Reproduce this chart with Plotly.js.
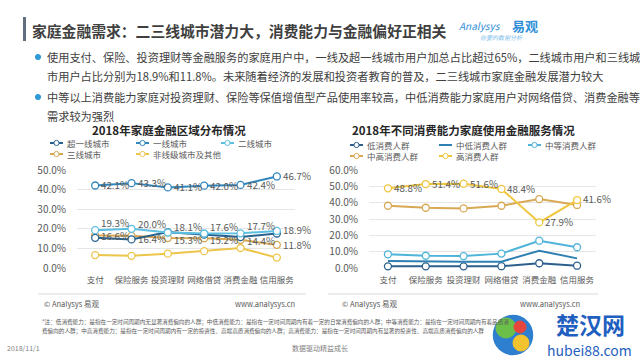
<!DOCTYPE html>
<html>
<head>
<meta charset="utf-8">
<script src="https://cdn.plot.ly/plotly-3.0.1.min.js"></script>
<style>
html,body{margin:0;padding:0;background:#fff;}
#chart{width:640px;height:360px;}
</style>
</head>
<body>
<div id="chart"></div>
<script>
// ---------- DATA ----------
const categories = ['支付', '保险服务', '投资理财', '网络借贷', '消费金融', '信用服务'];

// Left chart: 2018年家庭金融区域分布情况
const regionNames = ['超一线城市', '一线城市', '二线城市', '三线城市', '非线级城市及其他'];
const superTier1 = [15.4, 14.6, 18.3, 17.0, 15.8, 17.6];
const tier1 = [42.1, 43.3, 41.1, 42.0, 42.4, 46.7];
const tier2 = [19.3, 20.0, 18.1, 17.6, 17.7, 18.9];
const tier3 = [16.6, 16.4, 15.3, 15.2, 14.4, 11.8];
const nonTier = [6.6, 6.2, 7.3, 8.6, 10.2, 5.3];

// Right chart: 2018年不同消费能力家庭使用金融服务情况
const groupNames = ['低消费人群', '中低消费人群', '中等消费人群', '中高消费人群', '高消费人群'];
const lowGroup = [1.0, 1.0, 1.0, 1.1, 2.9, 1.4];
const midLowGroup = [4.3, 4.0, 3.9, 3.9, 10.6, 5.9];
const midGroup = [8.4, 7.5, 7.3, 8.8, 16.7, 12.7];
const midHighGroup = [38.1, 36.9, 36.5, 38.1, 42.2, 38.6];
const highGroup = [48.8, 51.4, 51.6, 48.4, 27.9, 41.6];

const leftTicks = [0, 10, 20, 30, 40, 50];
const leftTickText = ['0.0%', '10.0%', '20.0%', '30.0%', '40.0%', '50.0%'];
const rightTicks = [0, 10, 20, 30, 40, 50, 60];
const rightTickText = ['0.0%', '10.0%', '20.0%', '30.0%', '40.0%', '50.0%', '60.0%'];

// ---------- STYLE ----------
const FONT = '"Noto Sans CJK SC", "Noto Sans", sans-serif';
const C = {
  superTier1: '#27628f', tier1: '#3186bd', tier2: '#5cbfe2', tier3: '#d6a651', nonTier: '#edc54a',
  low: '#2c5f8c', midLow: '#2f80b2', mid: '#4fb4da', midHigh: '#d8a853', high: '#f0c63f'
};
const labelFont = {family: FONT, size: 9.8, color: '#595959'};

function series(x, y, color, xa, ya, noMarker) {
  return {
    x: x, y: y, xaxis: xa, yaxis: ya, type: 'scatter',
    mode: noMarker ? 'lines' : 'lines+markers',
    line: {color: color, width: 2},
    marker: {size: 7, color: '#ffffff', line: {color: color, width: 1.3}},
    hoverinfo: 'skip', cliponaxis: false
  };
}

const traces = [
  series(categories, nonTier, C.nonTier, 'x', 'y'),
  series(categories, tier3, C.tier3, 'x', 'y'),
  series(categories, superTier1, C.superTier1, 'x', 'y'),
  series(categories, tier2, C.tier2, 'x', 'y'),
  series(categories, tier1, C.tier1, 'x', 'y'),

  series(categories, lowGroup, C.low, 'x2', 'y2'),
  series(categories, midLowGroup, C.midLow, 'x2', 'y2', true),
  series(categories, midGroup, C.mid, 'x2', 'y2'),
  series(categories, midHighGroup, C.midHigh, 'x2', 'y2'),
  series(categories, highGroup, C.high, 'x2', 'y2')
];

// pixel helpers for paper coords
const W = 640, H = 360;
const px = x => x / W;
const py = y => 1 - y / H;

const annotations = [];
const shapes = [];

// data labels placed through the axes' own scales
function dataLabels(values, xa, ya, yshifts) {
  values.forEach((v, i) => {
    annotations.push({
      xref: xa, yref: ya, x: categories[i], y: v, text: v.toFixed(1) + '%', showarrow: false,
      xanchor: 'left', yanchor: 'middle', xshift: 4, yshift: yshifts ? yshifts[i] : 0,
      font: labelFont
    });
  });
}
dataLabels(tier1, 'x', 'y');
dataLabels(tier2, 'x', 'y', [7, 5, 6, 7, 7, 1]);
dataLabels(tier3, 'x', 'y', [-1, -3, -2, -2, -1, 0]);
dataLabels(highGroup, 'x2', 'y2', [0, 0, 0, 0, 0, 1]);

function txt(x, y, text, size, color, opt) {
  opt = opt || {};
  annotations.push(Object.assign({
    xref: 'paper', yref: 'paper', x: px(x), y: py(y), text: text, showarrow: false,
    xanchor: 'left', yanchor: 'middle',
    font: {family: FONT, size: size, color: color}
  }, opt));
}
function hline(x0, x1, y, color, w) {
  shapes.push({type: 'line', xref: 'paper', yref: 'paper', x0: px(x0), x1: px(x1), y0: py(y), y1: py(y), line: {color: color, width: w || 1}});
}
function circ(cx, cy, r, fill, lineColor, lw) {
  shapes.push({type: 'circle', xref: 'paper', yref: 'paper', x0: px(cx - r), x1: px(cx + r), y0: py(cy + r), y1: py(cy - r),
    fillcolor: fill, line: {color: lineColor, width: lw || 1}});
}
function legendItem(x, y, name, color, marker) {
  hline(x, x + 13, y, color, 2);
  if (marker) circ(x + 6.5, y, 2.6, '#ffffff', color, 1);
  txt(x + 15, y, name, 8.5, '#595959');
}

// Title bar and headline
shapes.push({type: 'rect', xref: 'paper', yref: 'paper', x0: px(23), x1: px(26), y0: py(41), y1: py(17), fillcolor: '#5f6f80', line: {width: 0}});
txt(30, 30, '<b>家庭金融需求：二三线城市潜力大，消费能力与金融偏好正相关</b>', 14.8, '#3f3f3f');

// logo
txt(457, 26, '<i>Analysys</i>', 10, '#2f8fd8');
txt(510, 26, '<b>易观</b>', 13, '#2f8fd8');
txt(478, 38, '<i>你要的数据分析</i>', 6, '#7fc0ea');

// bullets
circ(38, 57, 2.6, '#2f9ad6', '#2f9ad6', 0);
circ(38, 97, 2.6, '#2f9ad6', '#2f9ad6', 0);
const bodyColor = '#404040';
txt(45, 57, '使用支付、保险、投资理财等金融服务的家庭用户中，一线及超一线城市用户加总占比超过65%，二线城市用户和三线城', 11.2, bodyColor);
txt(45, 76, '市用户占比分别为18.9%和11.8%。未来随着经济的发展和投资者教育的普及，二三线城市家庭金融发展潜力较大', 11.2, bodyColor);
txt(45, 97, '中等以上消费能力家庭对投资理财、保险等保值增值型产品使用率较高，中低消费能力家庭用户对网络借贷、消费金融等', 11.2, bodyColor);
txt(45, 116, '需求较为强烈', 11.2, bodyColor);

// chart titles
txt(169, 130, '<b>2018年家庭金融区域分布情况</b>', 11.5, '#262626', {xanchor: 'center'});
txt(463, 130, '<b>2018年不同消费能力家庭使用金融服务情况</b>', 11.5, '#262626', {xanchor: 'center'});

// legends left
legendItem(50, 143, regionNames[0], C.superTier1, true);
legendItem(136, 143, regionNames[1], C.tier1, true);
legendItem(221, 143, regionNames[2], C.tier2, true);
legendItem(50, 154, regionNames[3], C.tier3, true);
legendItem(136, 154, regionNames[4], C.nonTier, true);
// legends right
legendItem(350, 145, groupNames[0], C.low, true);
legendItem(439, 145, groupNames[1], C.midLow, false);
legendItem(528, 145, groupNames[2], C.mid, true);
legendItem(350, 156, groupNames[3], C.midHigh, true);
legendItem(439, 156, groupNames[4], C.high, true);

// footers
hline(38, 306, 294, '#d9d9d9', 1);
hline(328, 598, 294, '#d9d9d9', 1);
txt(42, 303, '© Analysys 易观', 7.5, '#595959');
txt(297, 303, 'www.analysys.cn', 7.5, '#595959', {xanchor: 'right'});
txt(340, 303, '© Analysys 易观', 7.5, '#595959');
txt(582, 303, 'www.analysys.cn', 7.5, '#595959', {xanchor: 'right'});

// footnote
txt(40, 322, '*注：低消费能力：是指在一定时间周期内无显著消费偏向的人群；中低消费能力：是指在一定时间周期内有着一定的日常消费偏向的人群；中等消费能力：是指在一定时间周期内有着品质消', 5.6, '#595959');
txt(40, 331, '费偏向的人群；中高消费能力：是指在一定时间周期内有一定的投资性、高端高质消费偏向的人群；高消费能力：是指在一定时间周期内有显著的投资性、高端高质消费偏向的人群', 5.6, '#595959');
txt(5, 348, '2018/11/1', 7, '#7f7f7f');
txt(290, 348, '数据驱动精益成长', 7, '#7f7f7f');

// watermark (site logo)
circ(513, 335, 21, '#2f7fd0', '#ffffff', 1.5);
circ(506, 328, 10, '#6cc04a', '#6cc04a', 0);
circ(521, 343, 8, '#f3c22f', '#f3c22f', 0);
circ(520, 327, 6, '#e8453c', '#e8453c', 0);
txt(590, 324, '<b>楚汉网</b>', 23, '#1f5fbf', {xanchor: 'center'});
txt(589, 350, 'hubei88.com', 14, '#1f5fbf', {xanchor: 'center'});

const axisCommon = {
  showline: false, zeroline: false, fixedrange: true,
  tickfont: {family: FONT, size: 10, color: '#595959'}
};
const xCommon = {type: 'category', range: [-0.5, 5.5], showgrid: false, tickangle: 0,
  ticks: 'outside', ticklen: 4, tickcolor: 'rgba(0,0,0,0)',
  tickfont: {family: FONT, size: 8.5, color: '#595959'}};

const layout = {
  width: W, height: H,
  margin: {l: 0, r: 0, t: 0, b: 0},
  paper_bgcolor: '#ffffff', plot_bgcolor: 'rgba(0,0,0,0)',
  showlegend: false,
  xaxis: Object.assign({}, axisCommon, xCommon, {domain: [px(77), px(295)], anchor: 'y'}),
  yaxis: Object.assign({}, axisCommon, {domain: [py(268), py(170)], anchor: 'x', range: [0, 50],
    tickvals: leftTicks, ticktext: leftTickText, showgrid: true, gridcolor: '#e6e6e6', gridwidth: 1,
    ticks: 'outside', ticklen: 8, tickcolor: 'rgba(0,0,0,0)'}),
  xaxis2: Object.assign({}, axisCommon, xCommon, {domain: [px(369), px(596)], anchor: 'y2'}),
  yaxis2: Object.assign({}, axisCommon, {domain: [py(268), py(170)], anchor: 'x2', range: [0, 60],
    tickvals: rightTicks, ticktext: rightTickText, showgrid: true, gridcolor: '#e6e6e6', gridwidth: 1,
    ticks: 'outside', ticklen: 8, tickcolor: 'rgba(0,0,0,0)'}),
  annotations: annotations,
  shapes: shapes
};

Plotly.newPlot('chart', traces, layout, {staticPlot: true, displayModeBar: false});
</script>
</body>
</html>
